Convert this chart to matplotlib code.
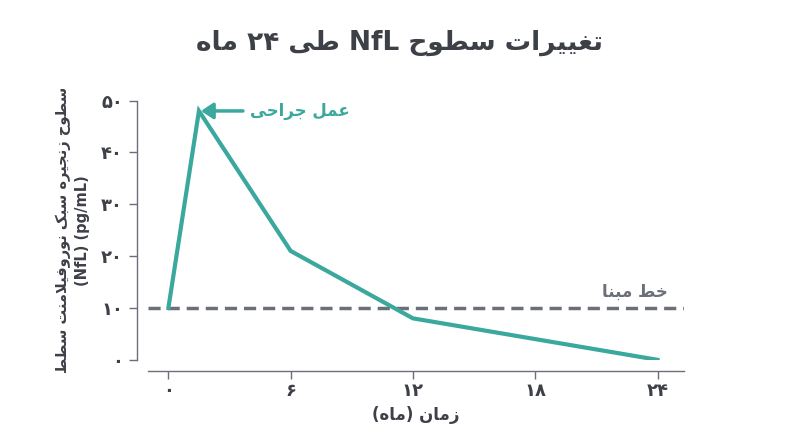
import matplotlib
matplotlib.use("Agg")
import matplotlib.pyplot as plt

# ---- minimal Persian shaping ----
FORMS = {
    'ا': (0xFE8D, 0xFE8E, None, None), 'د': (0xFEA9, 0xFEAA, None, None),
    'ر': (0xFEAD, 0xFEAE, None, None), 'ز': (0xFEAF, 0xFEB0, None, None),
    'و': (0xFEED, 0xFEEE, None, None),
    'ب': (0xFE8F, 0xFE90, 0xFE91, 0xFE92), 'ت': (0xFE95, 0xFE96, 0xFE97, 0xFE98),
    'ج': (0xFE9D, 0xFE9E, 0xFE9F, 0xFEA0), 'ح': (0xFEA1, 0xFEA2, 0xFEA3, 0xFEA4),
    'خ': (0xFEA5, 0xFEA6, 0xFEA7, 0xFEA8), 'س': (0xFEB1, 0xFEB2, 0xFEB3, 0xFEB4),
    'ط': (0xFEC1, 0xFEC2, 0xFEC3, 0xFEC4), 'ع': (0xFEC9, 0xFECA, 0xFECB, 0xFECC),
    'غ': (0xFECD, 0xFECE, 0xFECF, 0xFED0), 'ف': (0xFED1, 0xFED2, 0xFED3, 0xFED4),
    'ل': (0xFEDD, 0xFEDE, 0xFEDF, 0xFEE0), 'م': (0xFEE1, 0xFEE2, 0xFEE3, 0xFEE4),
    'ن': (0xFEE5, 0xFEE6, 0xFEE7, 0xFEE8), 'ه': (0xFEE9, 0xFEEA, 0xFEEB, 0xFEEC),
    'ی': (0xFBFC, 0xFBFD, 0xFBFE, 0xFBFF), 'ک': (0xFB8E, 0xFB8F, 0xFB90, 0xFB91),
    'ﻻ': (0xFEFB, 0xFEFC, None, None),
}
MIRROR = {'(': ')', ')': '('}

def shape(s):
    s = s.replace('لا', 'ﻻ')
    out = []
    for i, c in enumerate(s):
        if c not in FORMS:
            out.append(c); continue
        prev = s[i-1] if i > 0 else None
        nxt = s[i+1] if i + 1 < len(s) else None
        jp = prev in FORMS and FORMS[prev][2] is not None
        jn = nxt in FORMS and FORMS[c][2] is not None
        f = FORMS[c]
        if jp and jn: cp = f[3]
        elif jp: cp = f[1]
        elif jn: cp = f[2]
        else: cp = f[0]
        out.append(chr(cp))
    return ''.join(out)

def is_ltr(c):
    return c.isascii() and c.isalnum() or '\u06F0' <= c <= '\u06F9' or c == '/'

def fa(s):
    s = shape(s)
    runs, cur, cur_l = [], '', None
    for c in s:
        l = is_ltr(c)
        if cur and l != cur_l:
            runs.append((cur, cur_l)); cur = ''
        cur += c; cur_l = l
    if cur: runs.append((cur, cur_l))
    res = []
    for text, l in reversed(runs):
        res.append(text if l else ''.join(MIRROR.get(c, c) for c in reversed(text)))
    return ''.join(res)

# ---- data ----
months = [0, 1.5, 6, 12, 24]
nfl = [10, 48, 21, 8, 0]
baseline = 10
x_ticks = [0, 6, 12, 18, 24]
x_labels = ['۰', '۶', '۱۲', '۱۸', '۲۴']
y_ticks = [0, 10, 20, 30, 40, 50]
y_labels = ['۰', '۱۰', '۲۰', '۳۰', '۴۰', '۵۰']

TEAL = '#3aa89d'
GRAY = '#6b7078'
TXT = '#3d4047'
plt.rcParams['font.family'] = ['DejaVu Sans']

fig = plt.figure(figsize=(8, 4.47), dpi=100)
ax = fig.add_axes([0.185, 0.195, 0.67, 0.58])
ax.plot(months, nfl, color=TEAL, lw=3, solid_joinstyle='miter', zorder=3)
ax.axhline(baseline, color=GRAY, lw=2.5, ls=(0, (3.5, 2)), zorder=2)
ax.set_xlim(-1, 25.3)
ax.set_ylim(0, 50)
ax.set_xticks(x_ticks, x_labels)
ax.set_yticks(y_ticks, y_labels)
for s in ['top', 'right']:
    ax.spines[s].set_visible(False)
for s in ['left', 'bottom']:
    ax.spines[s].set_color(GRAY)
    ax.spines[s].set_linewidth(1)
ax.spines['left'].set_position(('outward', 8))
ax.spines['bottom'].set_position(('outward', 8))
ax.tick_params(colors=GRAY, length=6, width=1, labelsize=13, labelcolor=TXT, pad=4)
ax.tick_params(axis='x', pad=2)
for t in ax.get_xticklabels() + ax.get_yticklabels():
    t.set_fontweight('bold')

ax.annotate(fa('عمل جراحی'), xy=(1.6, 48), xytext=(4.0, 48),
            color=TEAL, fontsize=12, fontweight='bold', va='center', ha='left',
            arrowprops=dict(arrowstyle='-|>,head_length=0.6,head_width=0.4',
                            color=TEAL, lw=2.5, shrinkA=3, shrinkB=0))
ax.text(24.5, 11.3, fa('خط مبنا'), color=GRAY, fontsize=12, fontweight='bold',
        ha='right', va='bottom')

ax.set_xlabel(fa('زمان (ماه)'), fontsize=12, fontweight='bold', color=TXT, labelpad=4)
ax.set_ylabel(fa('سطوح زنجیره سبک نوروفیلامنت سطط') + '\n(NfL) (pg/mL)',
              fontsize=10.5, fontweight='bold', color=TXT, labelpad=8, linespacing=1.3)
fig.text(0.5, 0.905, fa('تغییرات سطوح NfL طی ۲۴ ماه'), ha='center', va='center',
         fontsize=19, fontweight='bold', color=TXT)
fig.savefig('out.png', dpi=100, facecolor='white')
